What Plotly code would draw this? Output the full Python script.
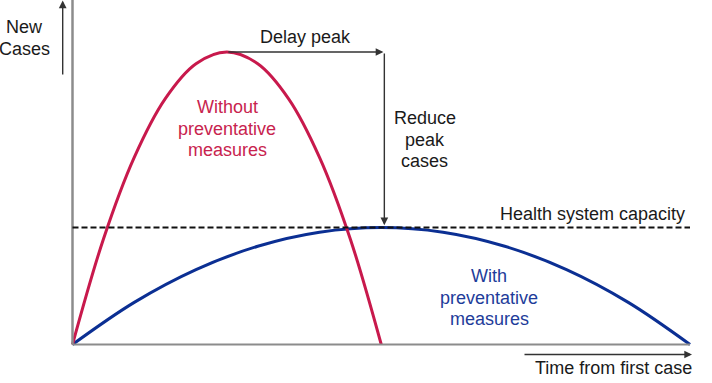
import plotly.graph_objects as go

# ---- data ----
red_t = [0, 1, 2, 3, 4, 5, 6, 7, 8, 9, 10]
red_cases = [0, 36, 64, 84, 96, 100, 96, 84, 64, 36, 0]
blue_t = [0, 2, 4, 6, 8, 10, 12, 14, 16, 18, 20]
blue_cases = [0, 14.4, 25.6, 33.6, 38.4, 40, 38.4, 33.6, 25.6, 14.4, 0]
capacity = 40
t_end = 20

y_label = ["New", "Cases"]
red_label = ["Without", "preventative", "measures"]
blue_label = ["With", "preventative", "measures"]
delay_label = ["Delay peak"]
reduce_label = ["Reduce", "peak", "cases"]
capacity_label = ["Health system capacity"]
x_label = ["Time from first case"]

RED = "#C8194C"
BLUE = "#0B2F93"
RED_TXT = "#C8234E"
BLUE_TXT = "#1E3C9A"
W, H = 712, 383

# axis ranges chosen so that t=0 sits at px 72.5 and cases=0 at px 344.5
sx = 617.5 / t_end
x0 = -72.5 / sx
x1 = x0 + W / sx
sy = 292.5 / max(red_cases)
y1 = 344.5 / sy
y0 = -(H - 344.5) / sy


def px_x(p):
    return x0 + p / sx


def px_y(p):
    return y1 - p / sy


fig = go.Figure()

# axes lines
fig.add_shape(type="line", x0=0, x1=0, y0=0, y1=y1, line=dict(color="#8c8c8c", width=2.5))
fig.add_shape(type="line", x0=0, x1=t_end, y0=0, y1=0, line=dict(color="#8c8c8c", width=2))
# capacity line
fig.add_shape(type="line", x0=0, x1=t_end, y0=capacity, y1=capacity,
              line=dict(color="#111111", width=2, dash="6px,3px"))

fig.add_trace(go.Scatter(x=blue_t, y=blue_cases, mode="lines",
                         line=dict(color=BLUE, width=3, shape="spline"), hoverinfo="skip"))
fig.add_trace(go.Scatter(x=red_t, y=red_cases, mode="lines",
                         line=dict(color=RED, width=3, shape="spline"), hoverinfo="skip"))


def arrow(xt, yt, xh, yh):
    fig.add_annotation(x=xh, y=yh, ax=xt, ay=yt, xref="x", yref="y", axref="x", ayref="y",
                       text="", showarrow=True, arrowhead=2, arrowsize=1.1, arrowwidth=1.4,
                       arrowcolor="#333333", standoff=0, startstandoff=0)


peak_t = red_t[red_cases.index(max(red_cases))]
blue_peak_t = blue_t[blue_cases.index(max(blue_cases))]
arrow(peak_t, max(red_cases), blue_peak_t + 0.07, max(red_cases))
arrow(blue_peak_t + 0.1, max(red_cases), blue_peak_t + 0.1, capacity + 0.8)
arrow(px_x(62.7), px_y(76), px_x(62.7), px_y(0.5))
arrow(px_x(523), px_y(354.5), px_x(692), px_y(354.5))


def label(lines, cx, cy0, color, step=21.5):
    for i, s in enumerate(lines):
        fig.add_annotation(x=px_x(cx), y=px_y(cy0 + i * step), xref="x", yref="y",
                           text=s, showarrow=False, xanchor="center", yanchor="middle",
                           font=dict(family="Liberation Sans, Arial, sans-serif", size=18, color=color))


label(y_label, 24, 27, "#1a1a1a")
label(delay_label, 305, 37, "#1a1a1a")
label(reduce_label, 424.5, 118, "#1a1a1a")
label(capacity_label, 592, 214, "#1a1a1a")
label(red_label, 227, 107, RED_TXT)
label(blue_label, 489, 276, BLUE_TXT)
label(x_label, 613, 368, "#1a1a1a")

fig.update_layout(
    width=W, height=H, margin=dict(l=0, r=0, t=0, b=0),
    paper_bgcolor="white", plot_bgcolor="white", showlegend=False,
    xaxis=dict(range=[x0, x1], visible=False, fixedrange=True),
    yaxis=dict(range=[y0, y1], visible=False, fixedrange=True),
)

fig.write_html("out.html", config={"displayModeBar": False},
               post_script="document.body.style.margin='0';document.body.style.overflow='hidden';")
